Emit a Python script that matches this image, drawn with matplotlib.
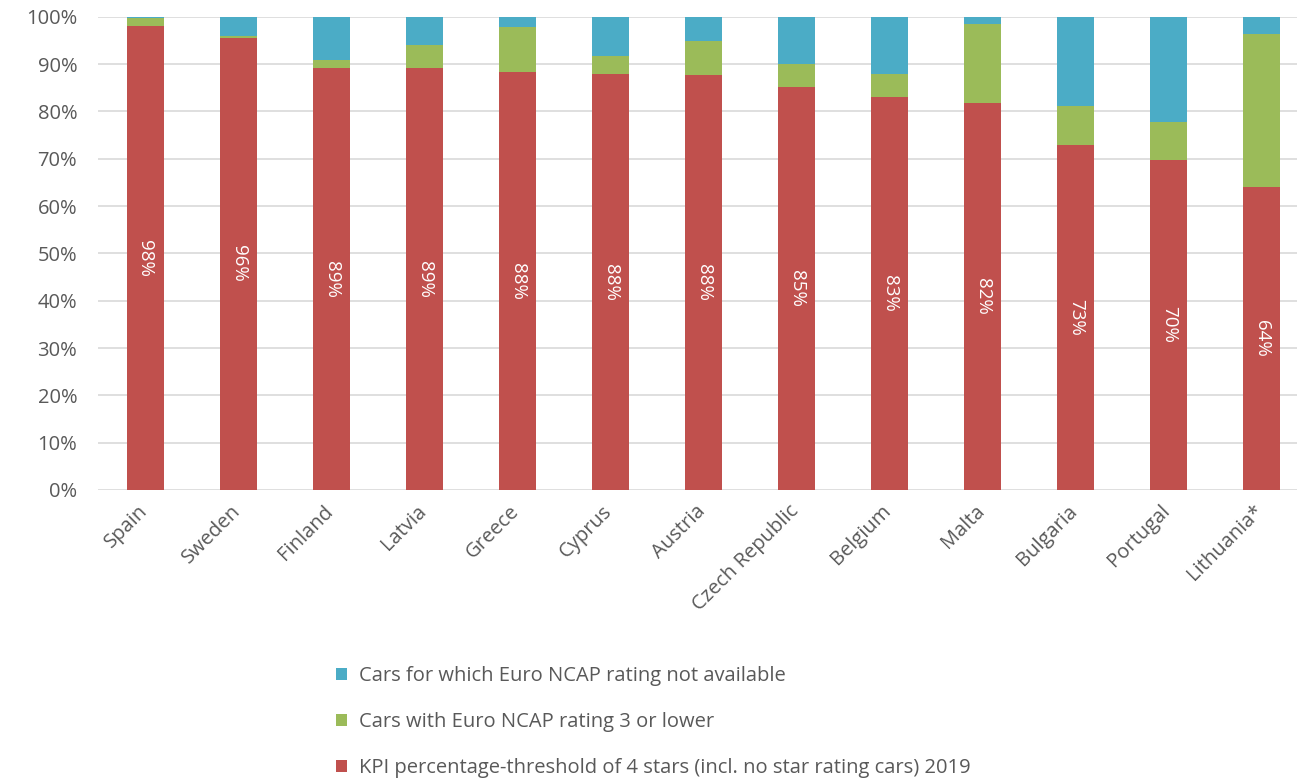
import matplotlib

matplotlib.use("Agg")
import matplotlib.pyplot as plt
from matplotlib.patches import Patch
from matplotlib.transforms import ScaledTranslation

plt.rcParams["font.family"] = ["Open Sans", "DejaVu Sans"]

COUNTRIES = [
    "Spain", "Sweden", "Finland", "Latvia", "Greece", "Cyprus", "Austria",
    "Czech Republic", "Belgium", "Malta", "Bulgaria", "Portugal", "Lithuania*",
]
# shares in percent, stacked bottom to top
KPI_4_STARS = [98.0, 95.6, 89.1, 89.1, 88.3, 87.9, 87.6, 85.2, 83.0, 81.7, 72.9, 69.8, 64.1]
NCAP_3_OR_LOWER = [1.7, 0.4, 1.8, 4.9, 9.6, 3.9, 7.3, 4.9, 4.9, 16.7, 8.3, 7.9, 32.2]
NCAP_NOT_AVAILABLE = [0.3, 4.0, 9.1, 6.0, 2.1, 8.2, 5.1, 9.9, 12.1, 1.6, 18.8, 22.3, 3.7]

LABEL_KPI = "KPI percentage-threshold of 4 stars (incl. no star rating cars) 2019"
LABEL_LOW = "Cars with Euro NCAP rating 3 or lower"
LABEL_NA = "Cars for which Euro NCAP rating not available"

RED = "#C0504D"
GREEN = "#9BBB59"
BLUE = "#4BACC6"
TEXT = "#595959"
FONT = 14.5

fig = plt.figure(figsize=(12.97, 7.8), dpi=100)
ax = fig.add_axes([0.0756, 0.3718, 0.9244, 0.6068])

x = list(range(len(COUNTRIES)))
width = 0.4
green_bottom = KPI_4_STARS
blue_bottom = [a + b for a, b in zip(KPI_4_STARS, NCAP_3_OR_LOWER)]

ax.bar(x, KPI_4_STARS, width, color=RED, zorder=3)
ax.bar(x, NCAP_3_OR_LOWER, width, bottom=green_bottom, color=GREEN, zorder=3)
ax.bar(x, NCAP_NOT_AVAILABLE, width, bottom=blue_bottom, color=BLUE, zorder=3)

for xi, val in zip(x, KPI_4_STARS):
    ax.text(xi, val / 2, f"{val:.0f}%", rotation=270, ha="center", va="center",
            color="white", fontsize=13.5, zorder=4)

ax.set_ylim(0, 100)
ax.set_xlim(-0.51, 12.38)
ax.set_yticks(range(0, 101, 10))
ax.set_yticklabels([f"{v}%" for v in range(0, 101, 10)])
ax.set_xticks(x)
ax.set_xticklabels(COUNTRIES, rotation=45, ha="right", rotation_mode="anchor")
ax.tick_params(axis="both", length=0, colors=TEXT, labelsize=FONT)
ax.tick_params(axis="y", pad=15)
ax.tick_params(axis="x", pad=8)
# nudge the slanted country names a little to the left
shift = ScaledTranslation(-6 / 72, 0, fig.dpi_scale_trans)
for lbl in ax.get_xticklabels():
    lbl.set_transform(lbl.get_transform() + shift)
ax.grid(axis="y", color="#D9D9D9", linewidth=1.2, zorder=0)
for side in ["top", "right", "left", "bottom"]:
    ax.spines[side].set_visible(False)

handles = [
    Patch(facecolor=BLUE, label=LABEL_NA),
    Patch(facecolor=GREEN, label=LABEL_LOW),
    Patch(facecolor=RED, label=LABEL_KPI),
]
fig.legend(handles=handles, loc="upper left", bbox_to_anchor=(318 / 1297, 1 - 648 / 780),
           frameon=False, fontsize=FONT, labelcolor=TEXT, handlelength=0.55,
           handleheight=0.55, handletextpad=0.6, labelspacing=1.3)

fig.savefig("out.png", dpi=100, facecolor="white")
